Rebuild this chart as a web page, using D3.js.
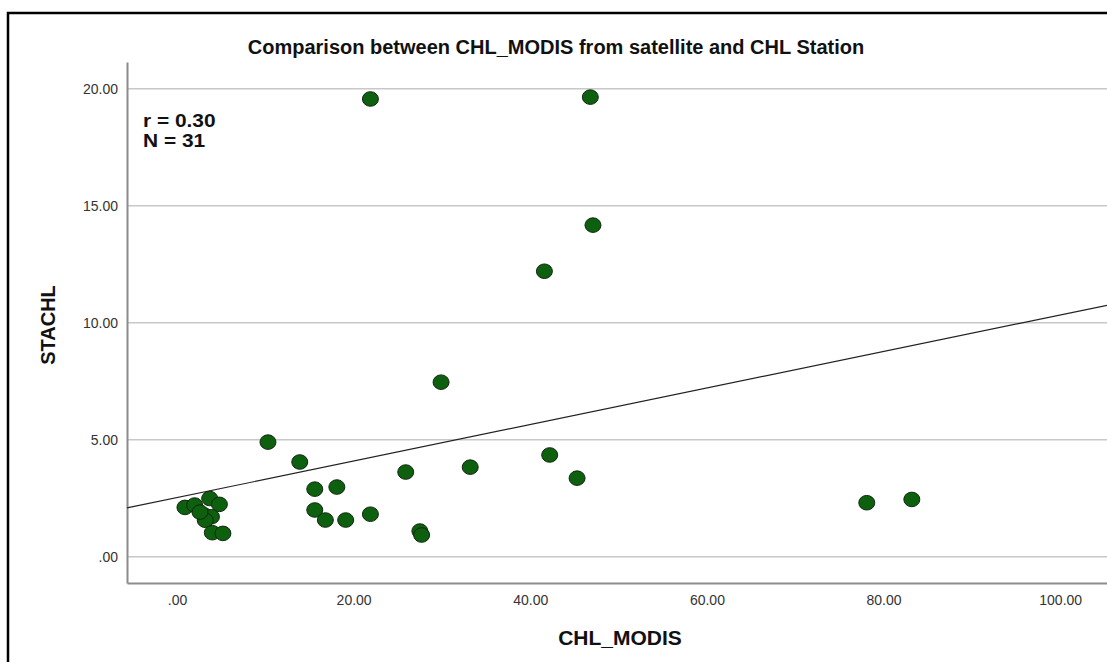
<!DOCTYPE html>
<html>
<head>
<meta charset="utf-8">
<script src="https://cdn.jsdelivr.net/npm/d3@7"></script>
<style>
  body { margin: 0; background: #fff; }
  svg { display: block; }
</style>
</head>
<body>
<div id="chart"></div>
<script>
// Data (CHL_MODIS vs STACHL)
const chlModis = [21.9, 46.8, 47.1, 41.6, 29.9, 10.3, 13.9, 42.2, 33.2, 25.9,
                  18.1, 15.6, 45.3, 15.6, 16.8, 19.1, 21.9, 27.5, 27.7, 78.1,
                  83.2, 0.9, 2.0, 3.7, 4.8, 3.1, 3.9, 3.2, 4.0, 5.2, 2.6];
const staChl   = [19.56, 19.64, 14.17, 12.2, 7.46, 4.9, 4.05, 4.35, 3.83, 3.62,
                  2.98, 2.89, 3.36, 2.0, 1.57, 1.57, 1.82, 1.1, 0.93, 2.31,
                  2.45, 2.11, 2.21, 2.49, 2.24, 1.78, 1.71, 1.56, 1.03, 1.0, 1.91];
const xTicks = [0, 20, 40, 60, 80, 100];
const yTicks = [0, 5, 10, 15, 20];
// fit line as shown
const fitIntercept = 2.53;
const fitSlope = 0.078;
const statLines = ["r = 0.30", "N = 31"];

const W = 1107, H = 662;
const plot = { left: 127, right: 1107, top: 62, bottom: 583 };
const font = "'Liberation Sans', Arial, sans-serif";

const svg = d3.select("#chart").append("svg")
  .attr("width", W).attr("height", H);

// outer frame
svg.append("path")
  .attr("d", `M8,${H} L8,13 L${W},13`)
  .attr("fill", "none")
  .attr("stroke", "#000")
  .attr("stroke-width", 2.5);

const x = d3.scaleLinear().domain([-5.66, 105.3]).range([plot.left, plot.right]);
const y = d3.scaleLinear().domain([-1.12, 21.14]).range([plot.bottom, plot.top]);

// gridlines
svg.append("g")
  .selectAll("line")
  .data(yTicks)
  .join("line")
  .attr("x1", plot.left).attr("x2", plot.right)
  .attr("y1", d => y(d)).attr("y2", d => y(d))
  .attr("stroke", "#c8c8c8")
  .attr("stroke-width", 1.5);

const fmt = d => d === 0 ? ".00" : d3.format(".2f")(d);

// y axis
const yAxis = svg.append("g")
  .attr("transform", `translate(${plot.left},0)`)
  .call(d3.axisLeft(y).tickValues(yTicks).tickFormat(fmt).tickSize(0).tickPadding(9));
yAxis.select(".domain").attr("stroke", "#8c8c8c").attr("stroke-width", 2);

// x axis
const xAxis = svg.append("g")
  .attr("transform", `translate(0,${plot.bottom})`)
  .call(d3.axisBottom(x).tickValues(xTicks).tickFormat(fmt).tickSize(0).tickPadding(12));
xAxis.select(".domain").attr("stroke", "#8c8c8c").attr("stroke-width", 2);

svg.selectAll(".tick text")
  .attr("font-family", font)
  .attr("font-size", "14px")
  .attr("fill", "#333");

// fit line
const x0 = x.domain()[0], x1 = x.domain()[1];
svg.append("line")
  .attr("x1", x(x0)).attr("y1", y(fitIntercept + fitSlope * x0))
  .attr("x2", x(x1)).attr("y2", y(fitIntercept + fitSlope * x1))
  .attr("stroke", "#222")
  .attr("stroke-width", 1.2);

// points
svg.append("g")
  .selectAll("ellipse")
  .data(chlModis.map((v, i) => ({ cx: v, cy: staChl[i] })))
  .join("ellipse")
  .attr("cx", d => x(d.cx))
  .attr("cy", d => y(d.cy))
  .attr("rx", 8)
  .attr("ry", 7.3)
  .attr("fill", "#0d600d")
  .attr("stroke", "#132613")
  .attr("stroke-width", 1);

// r / N
svg.append("g")
  .attr("transform", "translate(143,127) scale(1.1,1)")
  .append("text")
  .attr("font-family", font)
  .attr("font-size", "19px")
  .attr("font-weight", "bold")
  .attr("fill", "#111")
  .selectAll("tspan")
  .data(statLines)
  .join("tspan")
  .attr("x", 0)
  .attr("y", (d, i) => i * 20)
  .text(d => d);

// title
svg.append("text")
  .attr("x", 556).attr("y", 54)
  .attr("text-anchor", "middle")
  .attr("font-family", font)
  .attr("font-size", "20px")
  .attr("font-weight", "bold")
  .attr("fill", "#111")
  .text("Comparison between CHL_MODIS from satellite and CHL Station");

// axis titles
svg.append("text")
  .attr("x", 620).attr("y", 645)
  .attr("text-anchor", "middle")
  .attr("font-family", font)
  .attr("font-size", "21px")
  .attr("font-weight", "bold")
  .attr("fill", "#111")
  .text("CHL_MODIS");

svg.append("text")
  .attr("transform", "translate(55,325) rotate(-90)")
  .attr("text-anchor", "middle")
  .attr("font-family", font)
  .attr("font-size", "20px")
  .attr("font-weight", "bold")
  .attr("fill", "#111")
  .text("STACHL");
</script>
</body>
</html>
